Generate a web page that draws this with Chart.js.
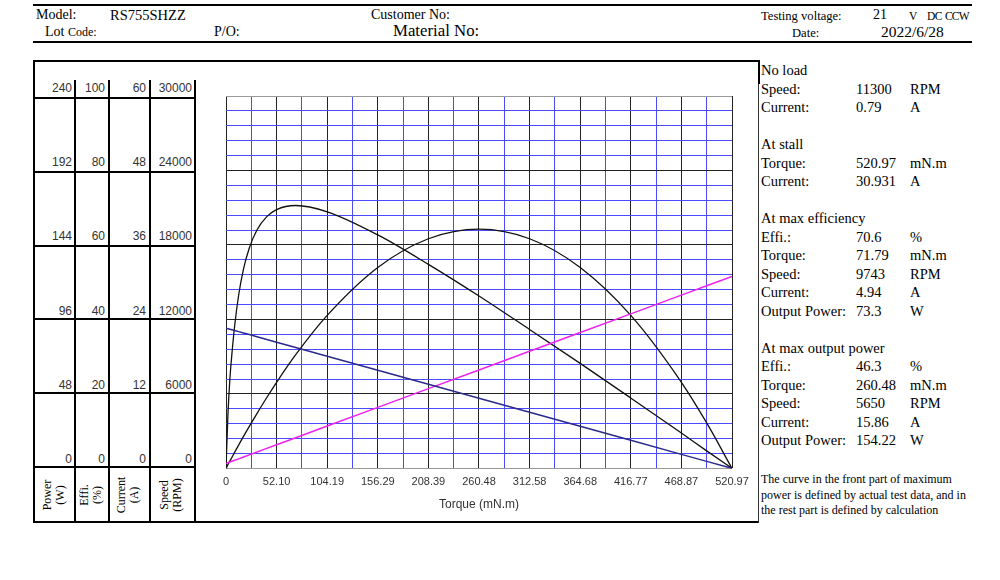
<!DOCTYPE html>
<html>
<head>
<meta charset="utf-8">
<script src="https://cdn.jsdelivr.net/npm/chart.js"></script>
<style>
  body { margin: 0; background: #fff; }
  #page { position: relative; width: 1000px; height: 580px; overflow: hidden; font-family: "Liberation Serif", serif; color: #000; }
  .t { position: absolute; white-space: nowrap; font-size: 14px; line-height: 16px; }
  .p { position: absolute; white-space: nowrap; font-size: 14.5px; line-height: 16px; }
  .ln { position: absolute; background: #000; }
  .num { position: absolute; font-family: "Liberation Sans", Arial, sans-serif; font-size: 12px; line-height: 14px; text-align: right; color: #333; }
  .rot { position: absolute; font-size: 12px; line-height: 13px; text-align: center; white-space: nowrap; transform: translate(-50%, -50%) rotate(-90deg); }
  .note { position: absolute; font-size: 12px; line-height: 15px; white-space: nowrap; }
  #plot { position: absolute; left: 196px; top: 80px; width: 576px; height: 432px; }
</style>
</head>
<body>
<div id="page">
  <!-- header -->
  <div class="ln" style="left:33px;top:4px;width:939px;height:2px"></div>
  <div class="ln" style="left:33px;top:41px;width:939px;height:2px"></div>
  <div class="t" style="left:36px;top:7px">Model:</div>
  <div class="t" style="left:110px;top:7px;font-size:14.5px">RS755SHZZ</div>
  <div class="t" style="left:371px;top:7px">Customer No:</div>
  <div class="t" style="left:45px;top:24px">Lot <span style="font-size:12px">Code:</span></div>
  <div class="t" style="left:214px;top:24px">P/O:</div>
  <div class="t" style="left:393px;top:22px;font-size:16.8px;line-height:18px">Material No:</div>
  <div class="t" style="left:761px;top:8px;font-size:12.6px">Testing voltage:</div>
  <div class="t" style="left:873px;top:7px">21</div>
  <div class="t" style="left:909px;top:8px;font-size:11.5px">V</div>
  <div class="t" style="left:927px;top:8px;font-size:11.5px;letter-spacing:-0.5px">DC</div>
  <div class="t" style="left:945px;top:8px;font-size:11.5px;letter-spacing:-0.8px">CCW</div>
  <div class="t" style="left:792px;top:25px;font-size:12.6px">Date:</div>
  <div class="t" style="left:881px;top:24px;font-size:15.5px">2022/6/28</div>

  <!-- frame and left table -->
  <div class="ln" style="left:33px;top:60px;width:726px;height:2px"></div>
  <div class="ln" style="left:33px;top:521px;width:726px;height:2px"></div>
  <div class="ln" style="left:33px;top:60px;width:2px;height:463px"></div>
  <div class="ln" style="left:758px;top:60px;width:2px;height:24px"></div>
  <div class="ln" style="left:758px;top:84px;width:1px;height:439px;background:#333"></div>
  <div id="table"></div>

  <div class="rot" style="left:54px;top:495px">Power<br>(W)</div>
  <div class="rot" style="left:91px;top:495px">Effi.<br>(%)</div>
  <div class="rot" style="left:128px;top:495px">Current<br>(A)</div>
  <div class="rot" style="left:171px;top:495px">Speed<br>(RPM)</div>

  <!-- right panel -->
  <div id="panel"></div>
  <div class="note" style="left:761px;top:472px">The curve in the front part of maximum</div>
  <div class="note" style="left:761px;top:488px">power is defined by actual test data, and in</div>
  <div class="note" style="left:761px;top:503px">the rest part is defined by calculation</div>

  <canvas id="plot" width="576" height="432"></canvas>
</div>
<script>
// torque points (mN.m) read along the x axis
const torque = [0, 2, 4, 6, 9, 13, 18, 24, 32, 42, 52.1, 71.79, 104.19, 156.29, 208.39, 260.48, 312.58, 364.68, 416.77, 468.87, 494.92, 520.97];

// series
const speed = [11300, 11257, 11213, 11170, 11105, 11018, 10910, 10779, 10606, 10389, 10170, 9743, 9040, 7910, 6780, 5650, 4520, 3390, 2260, 1130, 565, 0];
const current = [0.79, 0.91, 1.02, 1.14, 1.31, 1.54, 1.83, 2.18, 2.64, 3.22, 3.80, 4.94, 6.82, 9.83, 12.85, 15.86, 18.87, 21.89, 24.90, 27.92, 29.42, 30.93];
const power = [0, 2.4, 4.7, 7.0, 10.5, 15.0, 20.6, 27.1, 35.5, 45.7, 55.5, 73.3, 98.6, 129.5, 148.0, 154.2, 148.0, 129.5, 98.6, 55.5, 29.3, 0];
const efficiency = [0, 14.5, 24.0, 30.5, 38.5, 46.5, 53.5, 59.2, 64.1, 67.6, 69.5, 70.6, 68.9, 62.7, 54.8, 46.3, 37.3, 28.2, 18.9, 9.5, 4.7, 0];

// tick labels
const xTickLabels = ['0', '52.10', '104.19', '156.29', '208.39', '260.48', '312.58', '364.68', '416.77', '468.87', '520.97'];
const powerTicks = [0, 48, 96, 144, 192, 240];
const effTicks = [0, 20, 40, 60, 80, 100];
const currentTicks = [0, 12, 24, 36, 48, 60];
const speedTicks = [0, 6000, 12000, 18000, 24000, 30000];

// right panel rows: [label, value, unit]
const panelRows = [
    ['No load'], ['Speed:', '11300', 'RPM'], ['Current:', '0.79', 'A'], null,
    ['At stall'], ['Torque:', '520.97', 'mN.m'], ['Current:', '30.931', 'A'], null,
    ['At max efficiency'], ['Effi.:', '70.6', '%'], ['Torque:', '71.79', 'mN.m'], ['Speed:', '9743', 'RPM'], ['Current:', '4.94', 'A'], ['Output Power:', '73.3', 'W'], null,
    ['At max output power'], ['Effi.:', '46.3', '%'], ['Torque:', '260.48', 'mN.m'], ['Speed:', '5650', 'RPM'], ['Current:', '15.86', 'A'], ['Output Power:', '154.22', 'W']
];

function el(parent, cls, style, html) {
    const d = document.createElement('div');
    d.className = cls;
    d.style.cssText = style;
    d.innerHTML = html || '';
    parent.appendChild(d);
    return d;
}

// left table
const table = document.getElementById('table');
const colLines = [74, 108, 149, 194];
const rowLines = [97, 171, 245, 318, 392, 466];
colLines.forEach(function (x) {
    el(table, 'ln', 'left:' + x + 'px;top:80px;width:2px;height:443px');
});
rowLines.forEach(function (y) {
    el(table, 'ln', 'left:33px;top:' + y + 'px;width:163px;height:2px');
});
const cols = [
    { ticks: powerTicks, left: 33, width: 39 },
    { ticks: effTicks, left: 74, width: 31 },
    { ticks: currentTicks, left: 108, width: 38 },
    { ticks: speedTicks, left: 149, width: 43 }
];
cols.forEach(function (c) {
    c.ticks.forEach(function (v, i) {
        const y = 459 - i * 74.2 - 7;
        el(table, 'num', 'left:' + c.left + 'px;width:' + c.width + 'px;top:' + y + 'px', String(v));
    });
});

// right panel text
const panel = document.getElementById('panel');
let py = 62;
panelRows.forEach(function (r) {
    if (r) {
        el(panel, 'p', 'left:761px;top:' + py + 'px', r[0]);
        if (r[1]) el(panel, 'p', 'left:856px;top:' + py + 'px', r[1]);
        if (r[2]) el(panel, 'p', 'left:910px;top:' + py + 'px', r[2]);
    }
    py += 18.5;
});

function pts(values) {
    return torque.map(function (t, i) { return { x: t, y: values[i] }; });
}

const BLUE = '#4a4aff';
const DARK = '#222';
const EDGE = '#999';
const xMajor = xTickLabels.map(parseFloat);
const xMax = xMajor[xMajor.length - 1];

new Chart(document.getElementById('plot').getContext('2d'), {
    type: 'line',
    data: {
        datasets: [
            { label: 'Speed', data: pts(speed), yAxisID: 'ySpeed', borderColor: '#2a2a8c', borderWidth: 1.5 },
            { label: 'Current', data: pts(current), yAxisID: 'yCurrent', borderColor: '#ee22ee', borderWidth: 1.5 },
            { label: 'Power', data: pts(power), yAxisID: 'yPower', borderColor: '#111', borderWidth: 1.3, cubicInterpolationMode: 'monotone' },
            { label: 'Effi.', data: pts(efficiency), yAxisID: 'yEff', borderColor: '#111', borderWidth: 1.3, cubicInterpolationMode: 'monotone' }
        ]
    },
    options: {
        responsive: false,
        animation: false,
        events: [],
        layout: { padding: { left: 30, right: 40, top: 16, bottom: 0 } },
        elements: { point: { radius: 0 } },
        plugins: { legend: { display: false }, tooltip: { enabled: false } },
        scales: {
            // minor vertical grid (blue), no labels
            xMinor: {
                type: 'linear',
                position: 'top',
                min: 0,
                max: xMax,
                afterBuildTicks: function (axis) {
                    const t = [];
                    for (let i = 0; i < xMajor.length - 1; i++) {
                        t.push({ value: (xMajor[i] + xMajor[i + 1]) / 2 });
                    }
                    axis.ticks = t;
                },
                ticks: { display: false },
                grid: { drawTicks: false, lineWidth: 1, color: BLUE },
                border: { display: false }
            },
            x: {
                type: 'linear',
                min: 0,
                max: xMax,
                afterBuildTicks: function (axis) {
                    axis.ticks = xMajor.map(function (v) { return { value: v }; });
                },
                ticks: {
                    autoSkip: false,
                    maxRotation: 0,
                    padding: 7,
                    color: '#333',
                    font: { family: 'Liberation Sans', size: 11 },
                    callback: function (value, index) {
                        return xTickLabels[index];
                    }
                },
                grid: { drawTicks: false, lineWidth: 1, color: DARK },
                border: { display: false },
                title: {
                    display: true,
                    text: 'Torque (mN.m)',
                    color: '#333',
                    font: { family: 'Liberation Sans', size: 12 },
                    padding: { top: 2, bottom: 0 }
                }
            },
            y: {
                min: 0,
                max: 25,
                afterBuildTicks: function (axis) {
                    const t = [];
                    for (let i = 0; i <= 25; i++) t.push({ value: i });
                    axis.ticks = t;
                },
                ticks: { display: false },
                grid: {
                    drawTicks: false,
                    lineWidth: 1,
                    color: function (ctx) {
                        const v = ctx.tick ? ctx.tick.value : 0;
                        if (v === 0 || v === 25) return EDGE;
                        return v % 5 === 0 ? DARK : BLUE;
                    }
                },
                border: { display: false }
            },
            yPower: { display: false, min: 0, max: powerTicks[powerTicks.length - 1] },
            yEff: { display: false, min: 0, max: effTicks[effTicks.length - 1] },
            yCurrent: { display: false, min: 0, max: currentTicks[currentTicks.length - 1] },
            ySpeed: { display: false, min: 0, max: speedTicks[speedTicks.length - 1] }
        }
    }
});
</script>
</body>
</html>
